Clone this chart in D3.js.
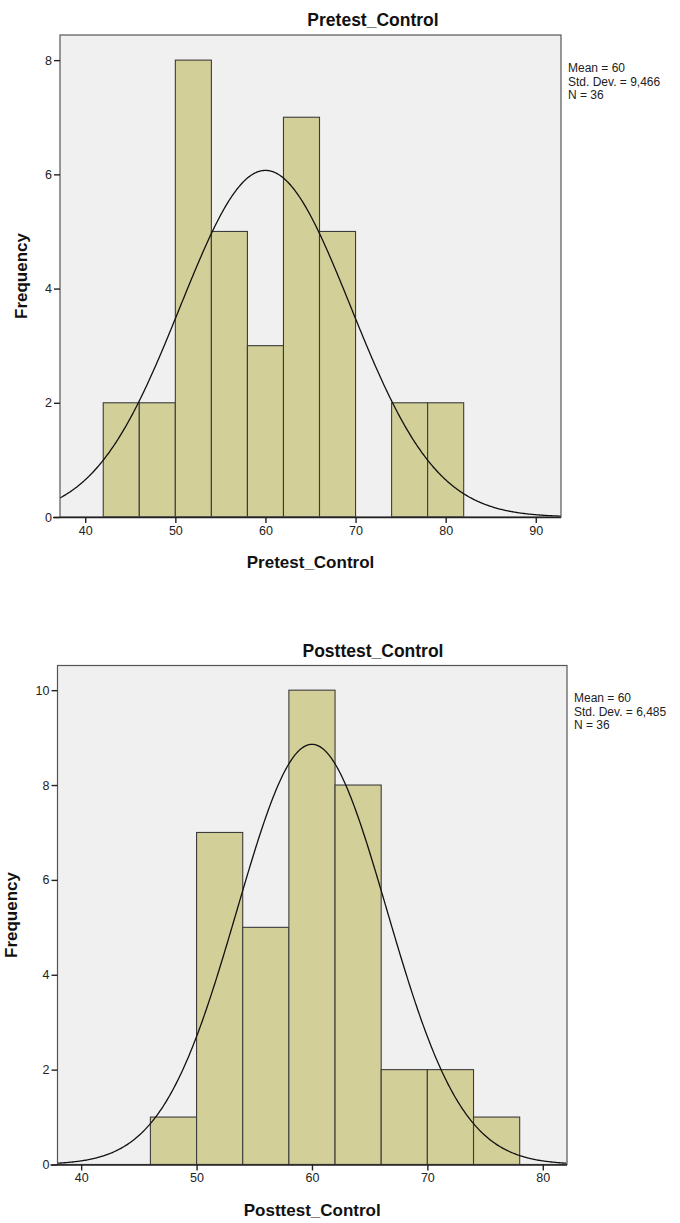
<!DOCTYPE html>
<html lang="en">
<head>
    <meta charset="UTF-8">
    <title>Pretest / Posttest Control histograms</title>
    <script src="https://d3js.org/d3.v7.min.js"></script>
    <style>
        body {
            margin: 0;
            background: #fff;
            font-family: "Liberation Sans", Arial, sans-serif;
        }
        .tick text { fill: #222; }
    </style>
</head>
<body>
<svg id="chart" width="680" height="1223"></svg>
<script>
    // --- Pretest_Control ---
    const pretestEdges = [42, 46, 50, 54, 58, 62, 66, 70, 74, 78, 82];
    const pretestCounts = [2, 2, 8, 5, 3, 7, 5, 0, 2, 2];
    const pretestMean = 60;
    const pretestSD = 9.466;
    const pretestN = 36;
    const pretestXTicks = [40, 50, 60, 70, 80, 90];
    const pretestYTicks = [0, 2, 4, 6, 8];
    const pretestStats = ["Mean = 60", "Std. Dev. = 9,466", "N = 36"];

    // --- Posttest_Control ---
    const posttestEdges = [46, 50, 54, 58, 62, 66, 70, 74, 78];
    const posttestCounts = [1, 7, 5, 10, 8, 2, 2, 1];
    const posttestMean = 60;
    const posttestSD = 6.485;
    const posttestN = 36;
    const posttestXTicks = [40, 50, 60, 70, 80];
    const posttestYTicks = [0, 2, 4, 6, 8, 10];
    const posttestStats = ["Mean = 60", "Std. Dev. = 6,485", "N = 36"];

    const svg = d3.select("#chart");

    function drawHistogram(cfg) {
        const g = svg.append("g");
        const x = d3.scaleLinear().domain(cfg.xDomain).range([cfg.left, cfg.right]);
        const y = d3.scaleLinear().domain([0, cfg.yMax]).range([cfg.bottom, cfg.top]);

        // plot background
        g.append("rect")
            .attr("x", cfg.left).attr("y", cfg.top)
            .attr("width", cfg.right - cfg.left)
            .attr("height", cfg.bottom - cfg.top)
            .attr("fill", "#f0f0f0");

        const bins = cfg.counts.map((c, i) => ({x0: cfg.edges[i], x1: cfg.edges[i + 1], count: c}))
            .filter(d => d.count > 0);

        g.selectAll("rect.bar")
            .data(bins)
            .enter().append("rect")
            .attr("class", "bar")
            .attr("x", d => x(d.x0))
            .attr("y", d => y(d.count))
            .attr("width", d => x(d.x1) - x(d.x0))
            .attr("height", d => y(0) - y(d.count))
            .attr("fill", "#d3cf98")
            .attr("stroke", "#3c3c3c")
            .attr("stroke-width", 1.1);

        // normal curve scaled to counts (N * bin width * pdf)
        const binW = cfg.edges[1] - cfg.edges[0];
        const curvePts = d3.range(cfg.xDomain[0], cfg.xDomain[1] + 0.01, 0.1).map(v => {
            const z = (v - cfg.mean) / cfg.sd;
            return [v, cfg.n * binW * Math.exp(-0.5 * z * z) / (cfg.sd * Math.sqrt(2 * Math.PI))];
        });
        const clipId = "clip" + cfg.id;
        g.append("clipPath").attr("id", clipId)
            .append("rect")
            .attr("x", cfg.left).attr("y", cfg.top)
            .attr("width", cfg.right - cfg.left)
            .attr("height", cfg.bottom - cfg.top);
        g.append("path")
            .datum(curvePts)
            .attr("clip-path", `url(#${clipId})`)
            .attr("fill", "none")
            .attr("stroke", "#111")
            .attr("stroke-width", 1.3)
            .attr("d", d3.line().x(d => x(d[0])).y(d => y(d[1])));

        // frame
        g.append("rect")
            .attr("x", cfg.left).attr("y", cfg.top)
            .attr("width", cfg.right - cfg.left)
            .attr("height", cfg.bottom - cfg.top)
            .attr("fill", "none")
            .attr("stroke", "#555")
            .attr("stroke-width", 1.2);

        // axes
        const xAxis = g.append("g")
            .attr("transform", `translate(0,${cfg.bottom})`)
            .call(d3.axisBottom(x).tickValues(cfg.xTicks).tickSize(6).tickPadding(3));
        const yAxis = g.append("g")
            .attr("transform", `translate(${cfg.left},0)`)
            .call(d3.axisLeft(y).tickValues(cfg.yTicks).tickSize(6).tickPadding(2));
        [xAxis, yAxis].forEach(a => {
            a.select(".domain").attr("stroke", "#222").attr("stroke-width", 1.6);
            a.selectAll(".tick line").attr("stroke", "#222").attr("stroke-width", 1.4);
            a.selectAll(".tick text")
                .attr("font-family", "Liberation Sans, Arial, sans-serif")
                .attr("font-size", 12.5);
        });
        yAxis.select(".domain").remove();
        xAxis.select(".domain").attr("d", `M${cfg.left - 7},0.5H${cfg.right}`);

        // titles
        g.append("text")
            .attr("x", cfg.titleX).attr("y", cfg.top - 9)
            .attr("text-anchor", "middle")
            .attr("font-size", 17.5).attr("font-weight", "bold")
            .attr("fill", "#111")
            .text(cfg.title);
        g.append("text")
            .attr("x", (cfg.left + cfg.right) / 2).attr("y", cfg.bottom + 51)
            .attr("text-anchor", "middle")
            .attr("font-size", 17).attr("font-weight", "bold")
            .attr("fill", "#111")
            .text(cfg.title);
        g.append("text")
            .attr("transform", `translate(${cfg.yLabelX},${(cfg.top + cfg.bottom) / 2}) rotate(-90)`)
            .attr("text-anchor", "middle")
            .attr("font-size", 17).attr("font-weight", "bold")
            .attr("fill", "#111")
            .text("Frequency");

        // stats legend
        g.selectAll("text.stat")
            .data(cfg.stats)
            .enter().append("text")
            .attr("class", "stat")
            .attr("x", cfg.right + 7)
            .attr("y", (d, i) => cfg.statsY + i * 13.5)
            .attr("font-size", 12)
            .attr("fill", "#222")
            .text(d => d);
    }

    drawHistogram({
        id: 1, title: "Pretest_Control",
        edges: pretestEdges, counts: pretestCounts,
        mean: pretestMean, sd: pretestSD, n: pretestN,
        xTicks: pretestXTicks, yTicks: pretestYTicks, stats: pretestStats,
        xDomain: [37.2, 92.8], yMax: 8.44,
        left: 60, right: 561, top: 35, bottom: 517,
        titleX: 373, yLabelX: 27, statsY: 72
    });

    drawHistogram({
        id: 2, title: "Posttest_Control",
        edges: posttestEdges, counts: posttestCounts,
        mean: posttestMean, sd: posttestSD, n: posttestN,
        xTicks: posttestXTicks, yTicks: posttestYTicks, stats: posttestStats,
        xDomain: [37.95, 82.1], yMax: 10.52,
        left: 57.5, right: 567, top: 665.5, bottom: 1164.5,
        titleX: 373, yLabelX: 17, statsY: 702
    });
</script>
</body>
</html>
